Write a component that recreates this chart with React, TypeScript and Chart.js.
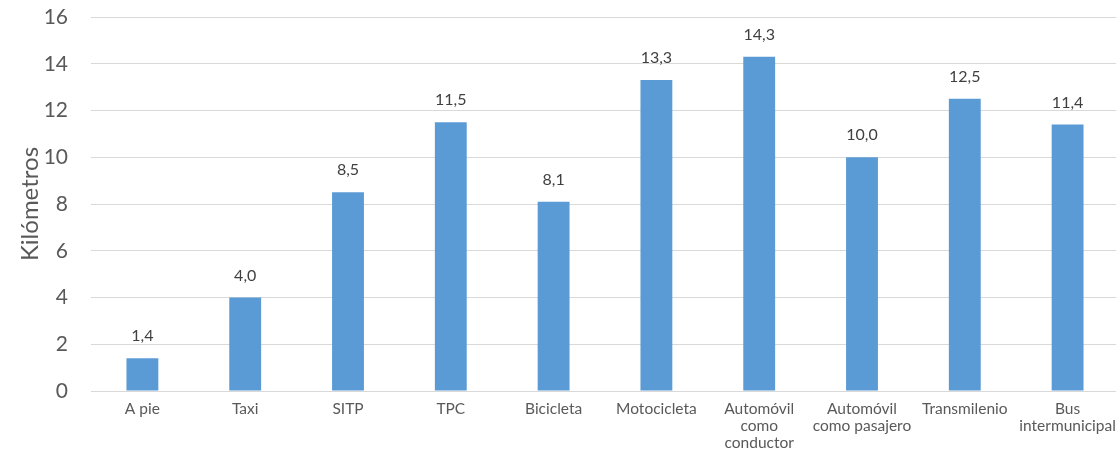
import React, { useEffect, useRef } from "react";
import { Chart, registerables } from "chart.js";

Chart.register(...registerables);

const categories: (string | string[])[] = [
  "A pie",
  "Taxi",
  "SITP",
  "TPC",
  "Bicicleta",
  "Motocicleta",
  ["Automóvil", "como", "conductor"],
  ["Automóvil", "como pasajero"],
  "Transmilenio",
  ["Bus", "intermunicipal"],
];
const values: number[] = [1.4, 4.0, 8.5, 11.5, 8.1, 13.3, 14.3, 10.0, 12.5, 11.4];
const yTitle = "Kilómetros";

const FONT = "Lato, 'Open Sans', sans-serif";

const labelPlugin = {
  id: "barLabels",
  afterDatasetsDraw(chart: any) {
    const ctx = chart.ctx;
    const meta = chart.getDatasetMeta(0);
    ctx.save();
    ctx.font = `16px ${FONT}`;
    ctx.fillStyle = "#404040";
    ctx.textAlign = "center";
    ctx.textBaseline = "middle";
    meta.data.forEach((bar: any, i: number) => {
      const txt = values[i].toFixed(1).replace(".", ",");
      ctx.fillText(txt, bar.x, bar.y - 22);
    });
    ctx.restore();
  },
};

export default function App() {
  const ref = useRef<HTMLCanvasElement>(null);
  useEffect(() => {
    document.body.style.margin = "0";
    document.body.style.overflow = "hidden";
    const chart = new Chart(ref.current!, {
      type: "bar",
      data: {
        labels: categories,
        datasets: [
          {
            data: values,
            backgroundColor: "#5B9BD5",
            barPercentage: 0.62,
            categoryPercentage: 0.5,
          },
        ],
      },
      options: {
        animation: false,
        responsive: false,
        layout: { padding: { top: 17, right: 0, left: 0, bottom: 0 } },
        plugins: { legend: { display: false }, tooltip: { enabled: false } },
        scales: {
          x: {
            grid: {
              display: true,
              drawOnChartArea: false,
              drawTicks: true,
              tickLength: 9,
              tickColor: "rgba(0,0,0,0)",
            },
            border: { color: "#d9d9d9", width: 1 },
            ticks: {
              color: "#595959",
              font: { family: FONT, size: 15.5, lineHeight: 1.12 },
              maxRotation: 0,
              autoSkip: false,
              padding: 0,
            },
            afterFit: (s: any) => {
              s.height = 68;
            },
          },
          y: {
            min: 0,
            max: 16,
            ticks: {
              stepSize: 2,
              color: "#595959",
              font: { family: FONT, size: 21 },
              padding: 0,
            },
            grid: {
              color: "#d9d9d9",
              drawTicks: true,
              tickLength: 23,
              tickColor: "rgba(0,0,0,0)",
              lineWidth: 1,
            },
            border: { display: false },
            title: {
              display: true,
              text: yTitle,
              color: "#595959",
              font: { family: FONT, size: 24 },
              padding: { top: 16, bottom: 0 },
            },
            afterFit: (s: any) => {
              s.width = 91;
            },
          },
        },
      },
      plugins: [labelPlugin],
    });
    return () => chart.destroy();
  }, []);
  return (
    <div style={{ width: 1116, height: 459, overflow: "hidden" }}>
      <canvas ref={ref} width={1119} height={459} style={{ display: "block" }} />
    </div>
  );
}
